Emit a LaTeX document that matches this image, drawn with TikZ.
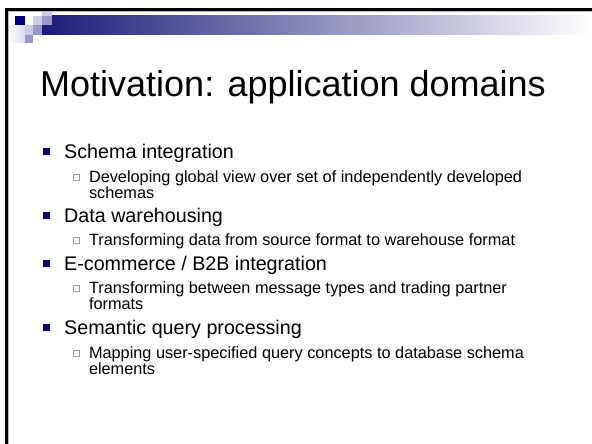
\documentclass[tikz,border=0pt]{standalone}
\usepackage{fontspec}
\setmainfont{Liberation Sans}
\usepackage{tikz}
\usetikzlibrary{positioning}
\definecolor{slidenavy}{HTML}{000080}
\definecolor{barnavy}{HTML}{1C1C78}
\definecolor{sqlight}{HTML}{CCCCEA}
\definecolor{sqmid}{HTML}{9999CC}
\tikzset{
    heading/.style={anchor=base west, inner sep=0pt, font=\fontsize{36}{40}\selectfont},
    item/.style={anchor=base west, inner sep=0pt, font=\fontsize{19.7}{23}\selectfont},
    subitem/.style={anchor=base west, inner sep=0pt, font=\fontsize{16.3}{16.8}\selectfont},
    dot/.style={fill=slidenavy, minimum size=7pt, inner sep=0pt},
    box/.style={draw=sqmid, fill=white, line width=0.7pt, minimum size=6.3pt, inner sep=0pt},
}

\begin{document}
\begin{tikzpicture}[x=1pt, y=-1pt]
    \useasboundingbox[fill=white] (0,0) rectangle (592,444);
    % banner
    \shade[left color=barnavy, right color=white] (42,16) rectangle (592,35);
    \shade[left color=white, right color=sqlight!70] (8,25) rectangle (25,43);
    \fill[sqlight] (42,11) rectangle (52,16);
    \fill[slidenavy] (15,16) rectangle (25,25);
    \fill[sqlight] (33,16) rectangle (42,25);
    \fill[sqmid] (42,16) rectangle (52,25);
    \fill[sqlight] (25,25) rectangle (33,35);
    \fill[sqmid] (33,25) rectangle (42,35);
    \fill[sqmid] (25,35) rectangle (33,43);
    % frame
    \draw[gray!55, line width=0.8pt] (8.4,444) -- (8.4,11.4) -- (592,11.4);
    \draw[line width=2.4pt] (6.5,444) -- (6.5,9.5) -- (592,9.5);

    \node[heading] at (40,96.5) (title) {Motivation: application domains};

    \node[item] at (64,158) (schema) {Schema integration};
    \node[subitem] at (88.8,182) (schemasub) {Developing global view over set of independently developed};
    \node[subitem] at (88.8,198.5) (schemasubb) {schemas};
    \node[item] at (64,222) (warehouse) {Data warehousing};
    \node[subitem] at (88.8,245) (warehousesub) {Transforming data from source format to warehouse format};
    \node[item] at (64,270) (ecommerce) {E-commerce / B2B integration};
    \node[subitem] at (88.8,293) (ecommercesub) {Transforming between message types and trading partner};
    \node[subitem] at (88.8,309.5) (ecommercesubb) {formats};
    \node[item] at (64,334) (query) {Semantic query processing};
    \node[subitem] at (88.8,358) (querysub) {Mapping user-specified query concepts to database schema};
    \node[subitem] at (88.8,374.5) (querysubb) {elements};

    \foreach \n in {schema, warehouse, ecommerce, query}
        \node[dot] at ([xshift=-17.5pt, yshift=6.8pt]\n.base west) {};
    \foreach \n in {schemasub, warehousesub, ecommercesub, querysub}
        \node[box] at ([xshift=-12.3pt, yshift=4.6pt]\n.base west) {};
\end{tikzpicture}
\end{document}
